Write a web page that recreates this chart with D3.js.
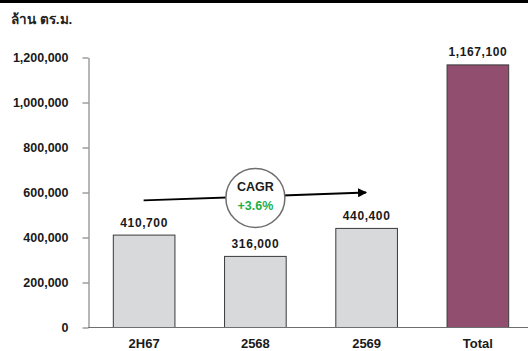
<!DOCTYPE html>
<html>
<head>
<meta charset="utf-8">
<script src="https://cdn.jsdelivr.net/npm/d3@7"></script>
<style>
  body { margin: 0; background: #fff; }
  svg { display: block; font-family: "Liberation Sans", Arial, sans-serif; font-weight: bold; }
</style>
</head>
<body>
<div id="chart"></div>
<script>
const categories = ["2H67", "2568", "2569", "Total"];
const values = [410700, 316000, 440400, 1167100];
const yTicks = [0, 200000, 400000, 600000, 800000, 1000000, 1200000];
const unitLabel = "ล้าน ตร.ม.";
const cagrTitle = "CAGR";
const cagrValue = "+3.6%";
// arrow runs from the first year to the last year
const arrowFrom = ["2H67", 565000];
const arrowTo = ["2569", 600000];

const width = 528, height = 351;
const svg = d3.select("#chart").append("svg").attr("width", width).attr("height", height);

// black strip along the top
svg.append("rect").attr("x", 0).attr("y", 0).attr("width", width).attr("height", 3).attr("fill", "#000");

svg.append("text").attr("x", 11).attr("y", 24).attr("font-size", 13.5).attr("fill", "#222").text(unitLabel);

const x = d3.scaleBand().domain(categories).range([88, 533]).paddingInner(0.446).paddingOuter(0.223);
const y = d3.scaleLinear().domain([0, 1200000]).range([327.5, 57.5]);

// y axis
const yAxis = svg.append("g").attr("transform", "translate(88.5,0)")
    .call(d3.axisLeft(y).tickValues(yTicks).tickFormat(d3.format(",")).tickSize(6).tickSizeOuter(0));
yAxis.select(".domain").attr("stroke", "#6e6e6e");
yAxis.selectAll(".tick line").attr("stroke", "#6e6e6e");
yAxis.selectAll(".tick text").attr("x", -20).attr("font-size", 12.5).attr("font-family", null).attr("fill", "#1a1a1a");

// bars
svg.append("g").selectAll("rect").data(values).enter().append("rect")
    .attr("x", (d, i) => x(categories[i]) + 0.5)
    .attr("y", d => y(d))
    .attr("width", x.bandwidth())
    .attr("height", d => y(0) - y(d))
    .attr("fill", (d, i) => categories[i] === "Total" ? "#924e6e" : "#d8d9da")
    .attr("stroke", "#3a3a3a")
    .attr("stroke-width", 1);

// x axis line
svg.append("line").attr("x1", 88).attr("x2", width).attr("y1", y(0)).attr("y2", y(0))
    .attr("stroke", "#6e6e6e");

// category labels
svg.append("g").selectAll("text").data(categories).enter().append("text")
    .attr("x", d => x(d) + x.bandwidth() / 2 + 0.5)
    .attr("y", 348)
    .attr("text-anchor", "middle")
    .attr("font-size", 13)
    .attr("fill", "#1a1a1a")
    .text(d => d);

// value labels
svg.append("g").selectAll("text").data(values).enter().append("text")
    .attr("x", (d, i) => x(categories[i]) + x.bandwidth() / 2 + 0.5)
    .attr("y", d => y(d) - 8.5)
    .attr("text-anchor", "middle")
    .attr("font-size", 12)
    .attr("letter-spacing", 0.6)
    .attr("fill", "#1a1a1a")
    .text(d => d3.format(",")(d));

// CAGR arrow
svg.append("defs").append("marker")
    .attr("id", "head").attr("viewBox", "0 0 10 10").attr("refX", 9).attr("refY", 5)
    .attr("markerWidth", 4.5).attr("markerHeight", 4.5).attr("orient", "auto")
    .attr("markerUnits", "strokeWidth")
    .append("path").attr("d", "M0,0L10,5L0,10Z").attr("fill", "#000");

const ax1 = x(arrowFrom[0]) + x.bandwidth() / 2, ay1 = y(arrowFrom[1]);
const ax2 = x(arrowTo[0]) + x.bandwidth() / 2, ay2 = y(arrowTo[1]);
svg.append("line").attr("x1", ax1).attr("y1", ay1).attr("x2", ax2).attr("y2", ay2)
    .attr("stroke", "#000").attr("stroke-width", 2).attr("marker-end", "url(#head)");

const cx = x("2568") + x.bandwidth() / 2 + 0.5, cy = (ay1 + ay2) / 2 + 1.5;
svg.append("circle").attr("cx", cx).attr("cy", cy).attr("r", 29.5)
    .attr("fill", "#fff").attr("stroke", "#6e6e6e").attr("stroke-width", 1.5);
svg.append("text").attr("x", cx).attr("y", cy - 6.5).attr("text-anchor", "middle")
    .attr("font-size", 12.5).attr("fill", "#1a1a1a").text(cagrTitle);
svg.append("text").attr("x", cx).attr("y", cy + 12.5).attr("text-anchor", "middle")
    .attr("font-size", 12.5).attr("fill", "#1fae49").text(cagrValue);
</script>
</body>
</html>
